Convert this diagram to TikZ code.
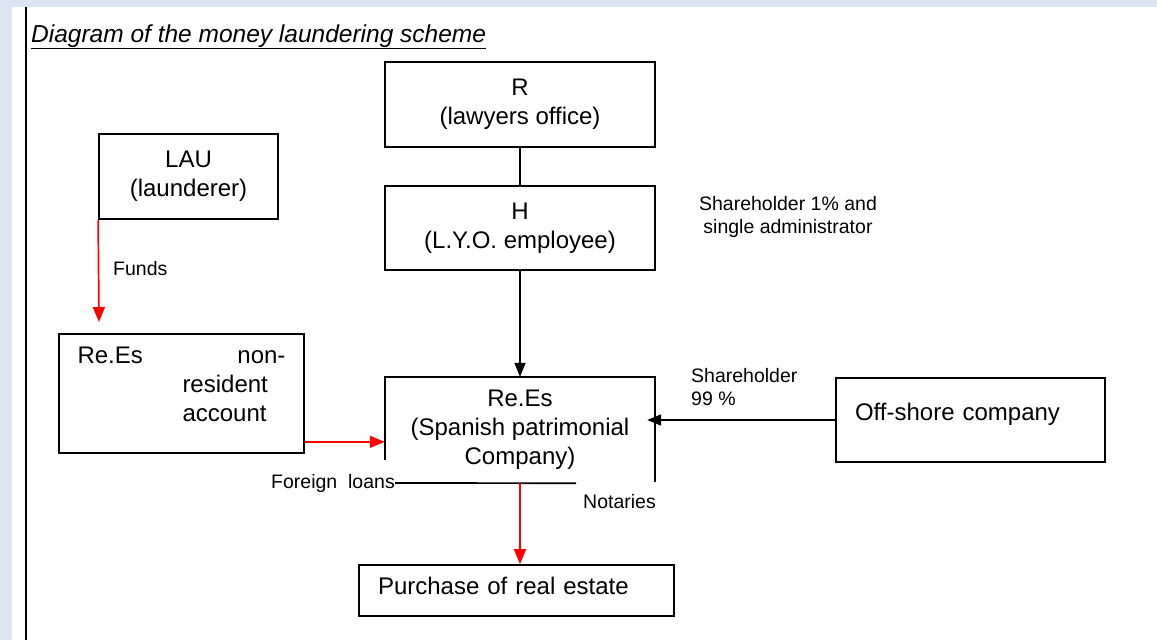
\documentclass[tikz,border=0pt]{standalone}
\usepackage{fontspec}
\setmainfont{Liberation Sans}
\usepackage{xcolor}
\usetikzlibrary{arrows.meta}

\definecolor{pagebg}{HTML}{DCE6F2}
\newcommand{\diagboxfont}{\fontsize{24}{29}\selectfont}
\newcommand{\diaglabelfont}{\fontsize{19.5}{23}\selectfont}
\newcommand{\diagtitlefont}{\fontsize{24.5}{28}\selectfont}

\tikzset{
  box/.style={draw, line width=1.7pt, inner sep=0pt, align=center, font=\diagboxfont},
  smalltext/.style={inner sep=0pt, font=\diaglabelfont},
  link/.style={line width=1.7pt},
  blackarrow/.style={link, -{Triangle[length=14pt,width=11pt]}},
  redarrow/.style={link, red, -{Triangle[length=15pt,width=12pt]}},
}

\begin{document}
\begin{tikzpicture}[x=1pt,y=-1pt]
        % page frame
        \fill[pagebg] (0,0) rectangle (1157,640);
        \fill[white] (12,7) rectangle (1157,640);
        \draw[line width=1.8pt] (26,7) -- (26,640);
        \useasboundingbox (0,0) rectangle (1157,640);

        \node[anchor=base west, inner sep=0pt, font=\diagtitlefont] (title) at (31,42) {\underline{\textit{Diagram of the money laundering scheme}}};

        % boxes
        \node[box, minimum width=270pt, minimum height=85pt] (lawyers) at (520,104.5) {R\\(lawyers office)};
        \node[box, minimum width=270pt, minimum height=84pt] (employee) at (520,228) {H\\(L.Y.O. employee)};
        \node[box, minimum width=179pt, minimum height=85pt] (launderer) at (188.5,176.5) {LAU\\(launderer)};
        \node[box, minimum width=245pt, minimum height=119pt, text width=208pt, align=left, text depth=77pt] (account) at (181.5,393.5) {Re.Es\hfill non-\\\hspace*{105pt}resident\\\hspace*{105pt}account};
        \node[minimum width=270pt, minimum height=106pt, inner sep=0pt, align=center, font=\diagboxfont] (patrimonial) at (520,430) {Re.Es\\(Spanish patrimonial\\Company)};
        \draw[link] ([yshift=23pt]patrimonial.south west) -- (patrimonial.north west) -- (patrimonial.north east) -- ([yshift=1pt]patrimonial.south east);
        \node[box, minimum width=269pt, minimum height=84pt, text width=231pt, align=left, text depth=16pt] (offshore) at (970.5,420) {Off-shore company};
        \node[box, minimum width=315pt, minimum height=51pt, text width=277pt, align=left, text depth=10pt] (realestate) at (516.5,590.5) {Purchase of real estate};

        % labels
        \node[smalltext, anchor=west] (funds) at (113,269) {Funds};
        \node[smalltext, align=center] (admin) at (788,217) {Shareholder 1\% and\\single administrator};
        \node[smalltext, align=left, anchor=north west] (share99) at (691,368) {Shareholder\\99 \%};
        \node[smalltext, anchor=east] (loans) at (395,483) {Foreign\ \ loans};
        \node[smalltext, anchor=west] (notaries) at (583,502) {Notaries};

        % connectors
        \coordinate (fundsend) at (99,322);
        \draw[link] (lawyers.south) -- (employee.north);
        \draw[blackarrow] (employee.south) -- (patrimonial.north);
        \draw[redarrow] (launderer.south west) -- (fundsend);
        \draw[redarrow] ([yshift=12pt]account.south east) -- ([yshift=12pt]account.south east -| patrimonial.west);
        \draw[blackarrow] (offshore.west) -- ([xshift=-8pt]offshore.west -| patrimonial.east);
        \draw[link] (loans.east) -- ([xshift=-79pt]patrimonial.south east);
        \draw[redarrow] (patrimonial.south) -- (patrimonial.south |- realestate.north);
    \end{tikzpicture}
\end{document}
